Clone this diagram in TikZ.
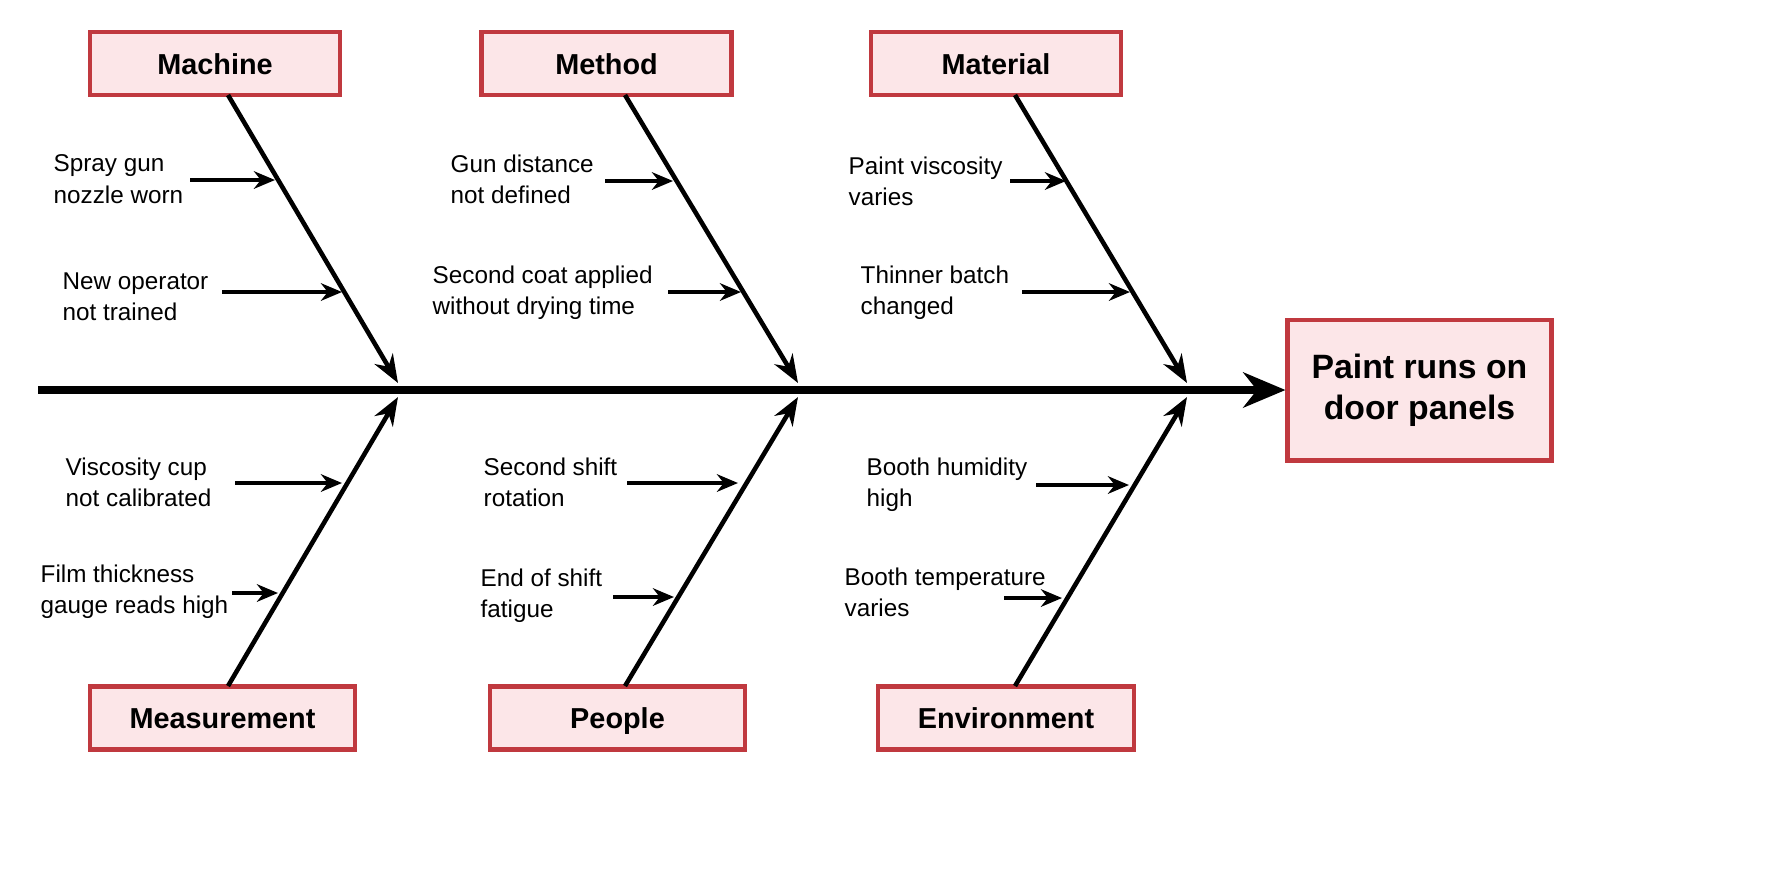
\documentclass[tikz,border=0pt]{standalone}
\usepackage{fontspec}
\setmainfont{Liberation Sans}
\usetikzlibrary{arrows.meta}
\definecolor{boxfill}{HTML}{FCE6E8}
\definecolor{boxline}{HTML}{C0393F}
\begin{document}
\begin{tikzpicture}[x=0.01cm,y=-0.01cm,
  cat/.style={draw=boxline,fill=boxfill,line width=1.2pt,minimum width=2.5cm,minimum height=0.63cm,text height=1.6ex,text depth=0.45ex,font=\fontsize{8.2}{10}\selectfont\bfseries},
  eff/.style={draw=boxline,fill=boxfill,line width=1.4pt,minimum width=2.63cm,minimum height=1.4cm,align=center,font=\fontsize{9.6}{11.6}\selectfont\bfseries},
  lbl/.style={anchor=west,align=left,font=\fontsize{6.9}{8.9}\selectfont,inner sep=0pt},
  bone/.style={line width=1.3pt,-{Stealth[length=8pt,width=6pt]}},
  sub/.style={line width=1pt,-{Stealth[length=6pt,width=5pt]}}]
\useasboundingbox (0,0) rectangle (1774,887);
\fill[white] (0,0) rectangle (1774,887);
% nodes
\node[cat] (mac) at (215,63.5) {Machine};
\node[cat] (met) at (606.5,63.5) {Method};
\node[cat] (mat) at (996,63.5) {Material};
\node[cat,minimum width=2.65cm] (mea) at (222.5,718) {Measurement};
\node[cat,minimum width=2.55cm] (peo) at (617.5,718) {People};
\node[cat,minimum width=2.56cm] (env) at (1006,718) {Environment};
\node[eff] (eff) at (1419.5,390) {Paint runs on\\door panels};
% spine
\coordinate (s0) at (38,390);
\draw[line width=2.2pt,-{Stealth[length=12pt,width=10pt]}] (s0) -- (eff.west);
% bones
\coordinate (b1) at (398,383); \coordinate (b2) at (798,383); \coordinate (b3) at (1187,383);
\coordinate (c1) at (398,397); \coordinate (c2) at (798,397); \coordinate (c3) at (1187,397);
\draw[bone] (228,95) coordinate (m0) -- (b1);
\draw[bone] (625,95) coordinate (t0) -- (b2);
\draw[bone] (1015,95) coordinate (a0) -- (b3);
\draw[bone] (228,686) coordinate (e0) -- (c1);
\draw[bone] (625,686) coordinate (p0) -- (c2);
\draw[bone] (1015,686) coordinate (v0) -- (c3);
% labels
\node[lbl] (l1) at (53,179) {Spray gun\\nozzle worn};
\node[lbl] (l2) at (62,297) {New operator\\not trained};
\node[lbl] (l3) at (450,179) {Gun distance\\not defined};
\node[lbl] (l4) at (432,293) {Second coat applied\\without drying time};
\node[lbl] (l5) at (848,181) {Paint viscosity\\varies};
\node[lbl] (l6) at (860,293) {Thinner batch\\changed};
\node[lbl] (l7) at (65,482) {Viscosity cup\\not calibrated};
\node[lbl] (l8) at (40,592) {Film thickness\\gauge reads high};
\node[lbl] (l9) at (483,482) {Second shift\\rotation};
\node[lbl] (l10) at (480,596) {End of shift\\fatigue};
\node[lbl] (l11) at (866,485) {Booth humidity\\high};
\node[lbl] (l12) at (844,592) {Booth temperature\\varies};
% sub arrows
\foreach \a/\b/\y in {190/275/180,222/342/292,605/673/181,668/741/292,1010/1066/181,1022/1130/292,
  235/342/483,232/278/593,627/738/483,613/674/597,1036/1129/485,1004/1062/598}{
  \draw[sub] (\a,\y) coordinate (q) -- (\b,\y);}
\end{tikzpicture}
\end{document}
